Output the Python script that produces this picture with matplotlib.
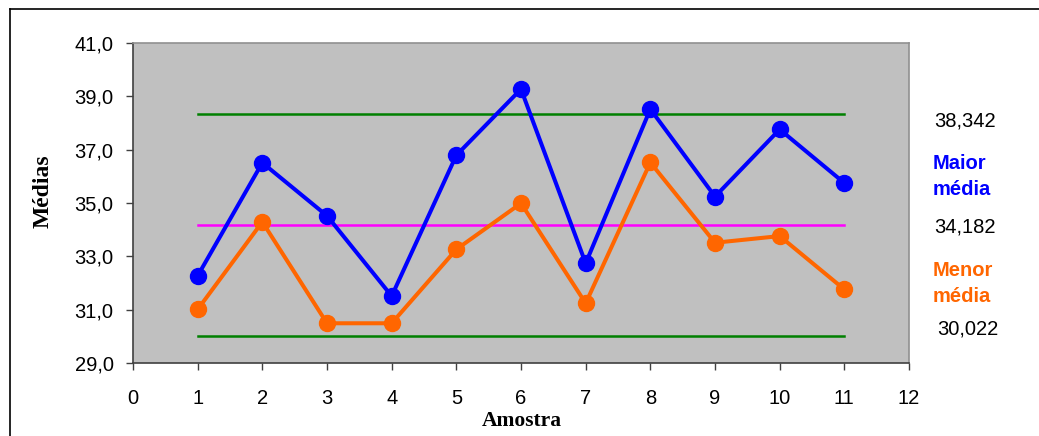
import matplotlib
matplotlib.use("Agg")
import matplotlib.pyplot as plt
from matplotlib.lines import Line2D
from matplotlib.ticker import FuncFormatter

amostra = [1, 2, 3, 4, 5, 6, 7, 8, 9, 10, 11]
maior_media = [32.27, 36.51, 34.52, 31.51, 36.79, 39.27, 32.74, 38.52, 35.24, 37.76, 35.75]
menor_media = [31.01, 34.29, 30.49, 30.49, 33.26, 34.99, 31.24, 36.52, 33.51, 33.76, 31.76]
lsc = 38.342
lc = 34.182
lic = 30.022

fig = plt.figure(figsize=(10.39, 4.36), dpi=100)
ax = fig.add_axes([133/1039, 1 - 363/436, (909-133)/1039, (363-43)/436])
ax.set_facecolor("#C0C0C0")

xl = [amostra[0], amostra[-1]]
ax.plot(xl, [lsc, lsc], color="#008000", lw=1.8, zorder=2)
ax.plot(xl, [lic, lic], color="#008000", lw=1.8, zorder=2)
ax.plot(xl, [lc, lc], color="#FF00FF", lw=1.8, zorder=2)
ax.plot(amostra, maior_media, color="#0000FF", lw=2.9, marker="o", ms=11.5, zorder=3)
ax.plot(amostra, menor_media, color="#FF6600", lw=2.9, marker="o", ms=11.5, zorder=3)

ax.set_xlim(0, 12)
ax.set_ylim(29, 41)
ax.set_xticks(range(0, 13))
ax.set_yticks([29, 31, 33, 35, 37, 39, 41])
ax.yaxis.set_major_formatter(FuncFormatter(lambda v, p: f"{v:.1f}".replace(".", ",")))
ax.tick_params(axis="both", direction="out", length=5, width=1, color="#404040",
               labelsize=14.5)
for lab in ax.get_xticklabels() + ax.get_yticklabels():
    lab.set_fontfamily("Liberation Sans")
ax.tick_params(axis="x", pad=14)
ax.tick_params(axis="y", pad=9)

for s in ["left", "bottom"]:
    ax.spines[s].set_color("#404040")
    ax.spines[s].set_linewidth(1.2)
for s in ["top", "right"]:
    ax.spines[s].set_color("#909090")
    ax.spines[s].set_linewidth(1.2)

fig.text(522/1039, 1 - 421/436, "Amostra", fontfamily="Liberation Serif", fontweight="bold",
         fontsize=15.5, ha="center", va="center")
fig.text(43/1039, 1 - 191/436, "Médias", fontfamily="Liberation Serif", fontweight="bold",
         fontsize=17, ha="center", va="center", rotation=90)

def ftxt(x, y, s, color="black", bold=False):
    fig.text(x/1039, 1 - y/436, s, color=color, fontsize=14.5,
             fontweight="bold" if bold else "normal", fontfamily="Liberation Sans",
             ha="left", va="center")

ftxt(934, 121, "38,342")
ftxt(933, 163, "Maior", "#0000FF", True)
ftxt(933, 189, "média", "#0000FF", True)
ftxt(934, 227, "34,182")
ftxt(933, 270, "Menor", "#FF6600", True)
ftxt(933, 297, "média", "#FF6600", True)
ftxt(937, 329, "30,022")

fig.add_artist(Line2D([10/1039, 10/1039], [0, 1 - 9/436], transform=fig.transFigure, color="black", lw=1.2))
fig.add_artist(Line2D([10/1039, 1], [1 - 9/436, 1 - 9/436], transform=fig.transFigure, color="black", lw=1.2))

fig.savefig("out.png", dpi=100)
